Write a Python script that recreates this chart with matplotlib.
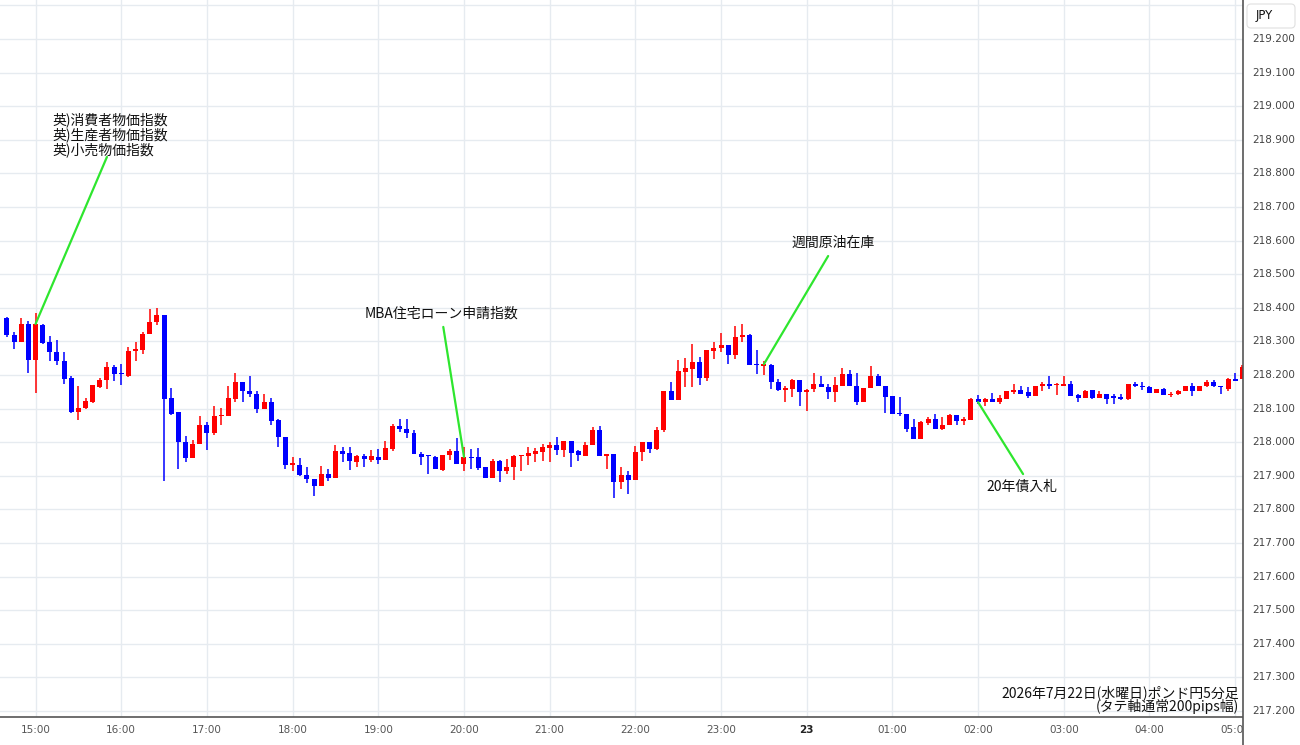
import matplotlib.pyplot as plt
import matplotlib.transforms as mtransforms
from matplotlib.patches import Rectangle, FancyBboxPatch
from matplotlib.lines import Line2D
import numpy as np

plt.rcParams['font.family'] = ['Noto Sans CJK JP', 'DejaVu Sans']

# GBP/JPY 5-minute candles, 14:40 -> 05:05
opens = [218.369, 218.320, 218.298, 218.352, 218.246, 218.350, 218.298, 218.268, 218.243, 218.192,
         218.090, 218.101, 218.121, 218.164, 218.184, 218.223, 218.204, 218.197, 218.271, 218.275,
         218.321, 218.357, 218.379, 218.131, 218.090, 218.000, 217.953, 217.995, 218.051, 218.028,
         218.078, 218.079, 218.129, 218.180, 218.153, 218.142, 218.099, 218.121, 218.066, 218.015,
         217.933, 217.933, 217.903, 217.889, 217.869, 217.906, 217.894, 217.975, 217.967, 217.941,
         217.959, 217.948, 217.956, 217.946, 217.979, 218.047, 218.040, 218.028, 217.966, 217.959,
         217.956, 217.916, 217.961, 217.973, 217.936, 217.956, 217.956, 217.926, 217.894, 217.943,
         217.913, 217.926, 217.959, 217.959, 217.966, 217.971, 217.984, 217.991, 217.978, 218.003,
         217.973, 217.959, 217.991, 218.036, 217.959, 217.966, 217.880, 217.902, 217.887, 217.971,
         218.001, 217.981, 218.036, 218.151, 218.124, 218.209, 218.219, 218.240, 218.191, 218.270,
         218.280, 218.290, 218.260, 218.313, 218.320, 218.233, 218.228, 218.229, 218.179, 218.156,
         218.159, 218.184, 218.149, 218.157, 218.173, 218.163, 218.150, 218.168, 218.203, 218.168,
         218.119, 218.160, 218.198, 218.168, 218.136, 218.086, 218.084, 218.044, 218.010, 218.057,
         218.069, 218.040, 218.050, 218.081, 218.064, 218.066, 218.127, 218.119, 218.129, 218.119,
         218.129, 218.149, 218.156, 218.149, 218.137, 218.166, 218.173, 218.170, 218.168, 218.173,
         218.141, 218.131, 218.156, 218.131, 218.144, 218.134, 218.134, 218.127, 218.173, 218.168,
         218.163, 218.146, 218.158, 218.139, 218.144, 218.151, 218.166, 218.153, 218.166, 218.180,
         218.166, 218.158, 218.188, 218.188]
highs = [218.372, 218.327, 218.369, 218.362, 218.385, 218.352, 218.316, 218.304, 218.268, 218.196,
         218.167, 218.131, 218.171, 218.191, 218.238, 218.230, 218.233, 218.283, 218.298, 218.328,
         218.397, 218.399, 218.379, 218.161, 218.090, 218.018, 218.007, 218.079, 218.059, 218.107,
         218.101, 218.168, 218.206, 218.180, 218.196, 218.153, 218.144, 218.131, 218.069, 218.015,
         217.955, 217.952, 217.926, 217.889, 217.929, 217.919, 217.992, 217.985, 217.985, 217.963,
         217.966, 217.976, 217.981, 218.003, 218.055, 218.070, 218.068, 218.036, 217.971, 217.961,
         217.959, 217.963, 217.981, 218.013, 217.986, 217.981, 217.983, 217.926, 217.951, 217.948,
         217.951, 217.961, 217.963, 217.986, 217.983, 217.996, 218.001, 218.016, 218.003, 218.003,
         217.976, 217.999, 218.045, 218.048, 217.966, 217.966, 217.926, 217.914, 217.989, 218.001,
         218.001, 218.045, 218.153, 218.179, 218.246, 218.250, 218.293, 218.253, 218.273, 218.298,
         218.326, 218.290, 218.346, 218.353, 218.323, 218.273, 218.243, 218.234, 218.187, 218.166,
         218.189, 218.184, 218.159, 218.206, 218.196, 218.173, 218.193, 218.220, 218.216, 218.206,
         218.160, 218.226, 218.203, 218.168, 218.136, 218.134, 218.084, 218.069, 218.064, 218.074,
         218.084, 218.074, 218.084, 218.081, 218.074, 218.131, 218.139, 218.131, 218.147, 218.139,
         218.153, 218.173, 218.168, 218.163, 218.166, 218.180, 218.198, 218.176, 218.198, 218.183,
         218.144, 218.156, 218.156, 218.153, 218.144, 218.144, 218.144, 218.173, 218.178, 218.178,
         218.168, 218.158, 218.160, 218.149, 218.156, 218.166, 218.176, 218.166, 218.186, 218.186,
         218.168, 218.190, 218.206, 218.230]
lows = [218.313, 218.278, 218.298, 218.207, 218.146, 218.293, 218.243, 218.231, 218.172, 218.087,
        218.065, 218.100, 218.117, 218.161, 218.157, 218.181, 218.171, 218.194, 218.243, 218.261,
        218.321, 218.349, 217.884, 218.082, 217.919, 217.941, 217.953, 217.995, 217.978, 218.022,
        218.050, 218.079, 218.121, 218.119, 218.134, 218.087, 218.099, 218.052, 217.985, 217.921,
        217.913, 217.899, 217.879, 217.840, 217.869, 217.883, 217.894, 217.940, 217.916, 217.926,
        217.926, 217.941, 217.936, 217.946, 217.973, 218.031, 218.011, 217.964, 217.931, 217.904,
        217.919, 217.913, 217.946, 217.936, 217.913, 217.921, 217.916, 217.894, 217.894, 217.882,
        217.906, 217.887, 217.913, 217.931, 217.941, 217.943, 217.941, 217.961, 217.956, 217.926,
        217.943, 217.959, 217.991, 217.959, 217.919, 217.834, 217.862, 217.847, 217.887, 217.943,
        217.969, 217.976, 218.030, 218.124, 218.124, 218.164, 218.164, 218.171, 218.181, 218.248,
        218.268, 218.234, 218.248, 218.298, 218.229, 218.204, 218.199, 218.159, 218.151, 218.120,
        218.134, 218.109, 218.094, 218.149, 218.163, 218.127, 218.119, 218.168, 218.168, 218.111,
        218.119, 218.160, 218.168, 218.087, 218.084, 218.079, 218.030, 218.010, 218.010, 218.052,
        218.040, 218.035, 218.050, 218.050, 218.050, 218.066, 218.114, 218.109, 218.119, 218.114,
        218.129, 218.144, 218.144, 218.131, 218.137, 218.151, 218.158, 218.139, 218.168, 218.137,
        218.119, 218.131, 218.127, 218.131, 218.114, 218.114, 218.124, 218.124, 218.163, 218.156,
        218.146, 218.146, 218.139, 218.134, 218.139, 218.151, 218.137, 218.153, 218.163, 218.163,
        218.144, 218.153, 218.183, 218.188]
closes = [218.318, 218.298, 218.352, 218.246, 218.352, 218.295, 218.268, 218.241, 218.189, 218.090,
          218.102, 218.122, 218.169, 218.184, 218.223, 218.203, 218.202, 218.271, 218.278, 218.323,
          218.359, 218.379, 218.129, 218.085, 218.000, 217.953, 217.995, 218.051, 218.028, 218.079,
          218.080, 218.131, 218.180, 218.151, 218.142, 218.099, 218.121, 218.064, 218.015, 217.933,
          217.936, 217.901, 217.889, 217.869, 217.906, 217.894, 217.975, 217.965, 217.943, 217.959,
          217.951, 217.958, 217.946, 217.983, 218.047, 218.039, 218.026, 217.964, 217.956, 217.958,
          217.921, 217.963, 217.973, 217.936, 217.956, 217.953, 217.923, 217.894, 217.943, 217.913,
          217.926, 217.959, 217.961, 217.968, 217.974, 217.986, 217.991, 217.978, 218.003, 217.969,
          217.961, 217.991, 218.036, 217.959, 217.966, 217.880, 217.902, 217.887, 217.971, 218.001,
          217.981, 218.036, 218.151, 218.124, 218.211, 218.221, 218.240, 218.191, 218.273, 218.280,
          218.290, 218.260, 218.313, 218.320, 218.229, 218.230, 218.232, 218.179, 218.154, 218.159,
          218.184, 218.149, 218.156, 218.173, 218.163, 218.150, 218.170, 218.203, 218.168, 218.119,
          218.160, 218.198, 218.168, 218.134, 218.084, 218.084, 218.040, 218.010, 218.059, 218.069,
          218.040, 218.052, 218.081, 218.064, 218.067, 218.127, 218.119, 218.127, 218.121, 218.132,
          218.151, 218.156, 218.144, 218.137, 218.166, 218.173, 218.168, 218.173, 218.173, 218.137,
          218.131, 218.153, 218.131, 218.144, 218.129, 218.132, 218.127, 218.173, 218.168, 218.163,
          218.146, 218.158, 218.139, 218.144, 218.153, 218.166, 218.153, 218.166, 218.180, 218.166,
          218.163, 218.188, 218.183, 218.223]

hour_labels = ['15:00', '16:00', '17:00', '18:00', '19:00', '20:00', '21:00', '22:00', '23:00',
               '23', '01:00', '02:00', '03:00', '04:00', '05:00']
price_ticks = [217.2, 217.3, 217.4, 217.5, 217.6, 217.7, 217.8, 217.9, 218.0, 218.1,
               218.2, 218.3, 218.4, 218.5, 218.6, 218.7, 218.8, 218.9, 219.0, 219.1, 219.2]

event_labels = ['英)消費者物価指数\n英)生産者物価指数\n英)小売物価指数',
                'MBA住宅ローン申請指数', '週間原油在庫', '20年債入札']
event_candles = [4, 64, 106, 136]

title_lines = ['2026年7月22日(水曜日)ポンド円5分足', '(タテ軸通常200pips幅)']

# layout: label position and start of the green connector (candle index, price)
label_pos = [(6.3, 218.982), (60.9, 218.382), (115.7, 218.593), (142.2, 217.867)]
label_align = [('left', 'top'), ('center', 'center'), ('center', 'center'), ('center', 'center')]
line_start = [(14.0, 218.849), (61.1, 218.343), (115.0, 218.554), (142.3, 217.905)]

o = np.array(opens)
h = np.array(highs)
l = np.array(lows)
c = np.array(closes)
idx = np.arange(len(o))
colors = np.where(c >= o, '#ff0000', '#0000ff')

W, H = 1300, 745
fig = plt.figure(figsize=(13, 7.45), dpi=100)
ax = fig.add_axes([0, 28 / H, 1243 / W, 717 / H])

ax.vlines(idx, l, h, colors=colors, lw=1.1, zorder=2)
ax.bar(idx, np.maximum(np.abs(c - o), 0.004), bottom=np.minimum(o, c), width=0.7,
       color=colors, linewidth=0, zorder=3)

ax.set_xlim(-0.98, 173.1)
ax.set_ylim(217.182, 219.316)

ax.set_xticks(4 + 12 * np.arange(len(hour_labels)))
ax.set_xticklabels(hour_labels, fontsize=7.5, color='#555555', family='DejaVu Sans')
ax.get_xticklabels()[9].set_fontweight('bold')
ax.get_xticklabels()[9].set_color('#222222')
ax.set_yticks(price_ticks + [219.3])
ax.tick_params(axis='x', length=0, pad=6)
ax.tick_params(axis='y', length=0, labelleft=False)
ax.grid(True, color='#e6ebf0', lw=1)
ax.set_axisbelow(True)
for s in ['top', 'left', 'right']:
    ax.spines[s].set_visible(False)
ax.spines['bottom'].set_color('#555555')
ax.spines['bottom'].set_linewidth(1.2)

green = '#2ee62e'
for lab, ci, pos, al, st in zip(event_labels, event_candles, label_pos, label_align, line_start):
    ax.annotate('', xy=(ci, c[ci]), xytext=st,
                arrowprops=dict(arrowstyle='-', color=green, lw=1.6, shrinkA=0, shrinkB=0),
                zorder=5)
    ax.text(pos[0], pos[1], lab, ha=al[0], va=al[1], fontsize=10, color='#111111',
            linespacing=1.02, zorder=6)

fig.text(1239 / W, 1 - 693 / H, title_lines[0], ha='right', va='center', fontsize=10,
         color='#111111')
fig.text(1239 / W, 1 - 707 / H, title_lines[1], ha='right', va='center', fontsize=10,
         color='#111111')

# right price panel
fig.patches.append(Rectangle((1243 / W, 0), 1 - 1243 / W, 1, transform=fig.transFigure,
                             facecolor='white', edgecolor='none', zorder=3))
fig.lines.append(Line2D([1243 / W, 1243 / W], [0, 1], transform=fig.transFigure,
                        color='#555555', lw=1.2, zorder=4))
fig.patches.append(FancyBboxPatch((1247, H - 28), 48, 24, boxstyle='round,pad=0,rounding_size=4',
                                  transform=mtransforms.IdentityTransform(),
                                  facecolor='white', edgecolor='#e0e0e0', lw=0.8, zorder=4))
blend = mtransforms.blended_transform_factory(fig.transFigure, ax.transData)
for p in price_ticks:
    fig.text(1252 / W, p, f'{p:.3f}', transform=blend, ha='left', va='center', fontsize=7.5,
             color='#444444', family='DejaVu Sans', zorder=5)
fig.text(1256 / W, 1 - 16 / H, 'JPY', ha='left', va='center', fontsize=8.5, color='#111111',
         family='DejaVu Sans', zorder=5)

fig.savefig('out.png', dpi=100)
